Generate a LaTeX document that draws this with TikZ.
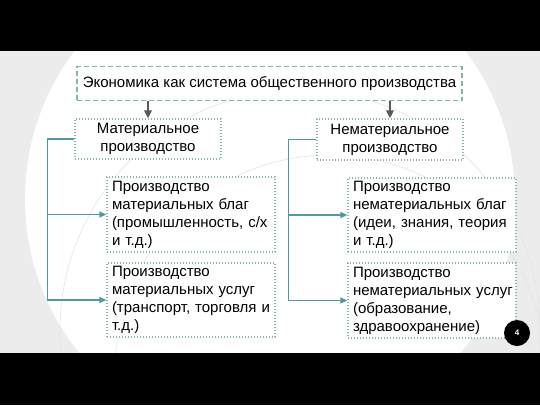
\documentclass[tikz,border=0pt]{standalone}
\usepackage{fontspec}
\setmainfont{Liberation Sans}
\usetikzlibrary{arrows.meta}
\definecolor{bggrey}{HTML}{ECECEC}
\definecolor{arcgrey}{HTML}{E4E4E4}
\definecolor{tealline}{HTML}{4E9A9E}
\definecolor{dashteal}{HTML}{7AB8AC}
\definecolor{dotteal}{HTML}{8DB3B3}
\definecolor{arrgrey}{HTML}{5A5A5A}
\tikzset{
  txt/.style={font=\fontsize{15}{18}\selectfont, text=black},
  dashbox/.style={draw=dashteal, line width=1.2pt, dash pattern=on 5pt off 3pt, fill=white, txt, inner sep=0pt},
  dotbox/.style={draw=dotteal, line width=1.3pt, dash pattern=on 1pt off 2pt, fill=white, txt, inner sep=0pt},
  subbox/.style={dotbox, align=left, inner xsep=5pt, inner ysep=0pt, text width=158pt},
  conn/.style={draw=tealline, line width=1.4pt},
  connarr/.style={conn, -{Triangle[length=7pt,width=6pt]}},
  greyarr/.style={draw=arrgrey, line width=2pt, -{Triangle[length=8pt,width=7.5pt]}}
}
\begin{document}
\begin{tikzpicture}[x=1pt,y=-1pt]
\useasboundingbox (0,0) rectangle (540,405);
\fill[bggrey] (0,0) rectangle (540,405);
\begin{scope}
  \clip (0,50) rectangle (540,353);
  \fill[white] (270,199) circle (245);
  \draw[arcgrey, line width=0.6pt] (300,330) circle (240);
  \draw[arcgrey, line width=0.6pt] (330,370) circle (215);
\end{scope}
\fill[black] (0,0) rectangle (540,51);
\fill[black] (0,353) rectangle (540,405);

\node[dashbox, minimum width=385, minimum height=34] (top) at (269.5,83.5)
  {Экономика как система общественного производства};

\node[dotbox, align=center, minimum width=146, minimum height=40] (mat) at (148,139)
  {Материальное\\производство};
\node[dotbox, align=center, minimum width=146, minimum height=41] (nmat) at (390,139.5)
  {Нематериальное\\производство};

\node[subbox, minimum height=75] (mb1) at (191,214.5)
  {\mbox{Производство}\\\mbox{материальных благ}\\\mbox{(промышленность, с/х}\\\mbox{и т.д.)}};
\node[subbox, minimum height=74] (mb2) at (191,300)
  {\mbox{Производство}\\\mbox{материальных услуг}\\\mbox{(транспорт, торговля и}\\\mbox{т.д.)}};
\node[subbox, minimum height=74] (nb1) at (432,215)
  {\mbox{Производство}\\\mbox{нематериальных благ}\\\mbox{(идеи, знания, теория}\\\mbox{и т.д.)}};
\node[subbox, minimum height=75] (nb2) at (432,300.5)
  {\mbox{Производство}\\\mbox{нематериальных услуг}\\\mbox{(образование,}\\\mbox{здравоохранение)}};

\draw[greyarr] (mat.north |- top.south) -- (mat.north);
\draw[greyarr] (nmat.north |- top.south) -- (nmat.north);

\draw[connarr] (mat.west) -- ++(-27,0) coordinate (lc) |- (mb2.west);
\draw[connarr] (lc |- mb1.west) -- (mb1.west);
\draw[connarr] (nmat.west) -- ++(-28,0) coordinate (rc) |- (nb2.west);
\draw[connarr] (rc |- nb1.west) -- (nb1.west);

\node[circle, fill=black, minimum size=26pt, inner sep=0pt, text=white,
  font=\fontsize{8}{8}\selectfont\bfseries] (pg) at (517,333) {4};
\end{tikzpicture}
\end{document}
